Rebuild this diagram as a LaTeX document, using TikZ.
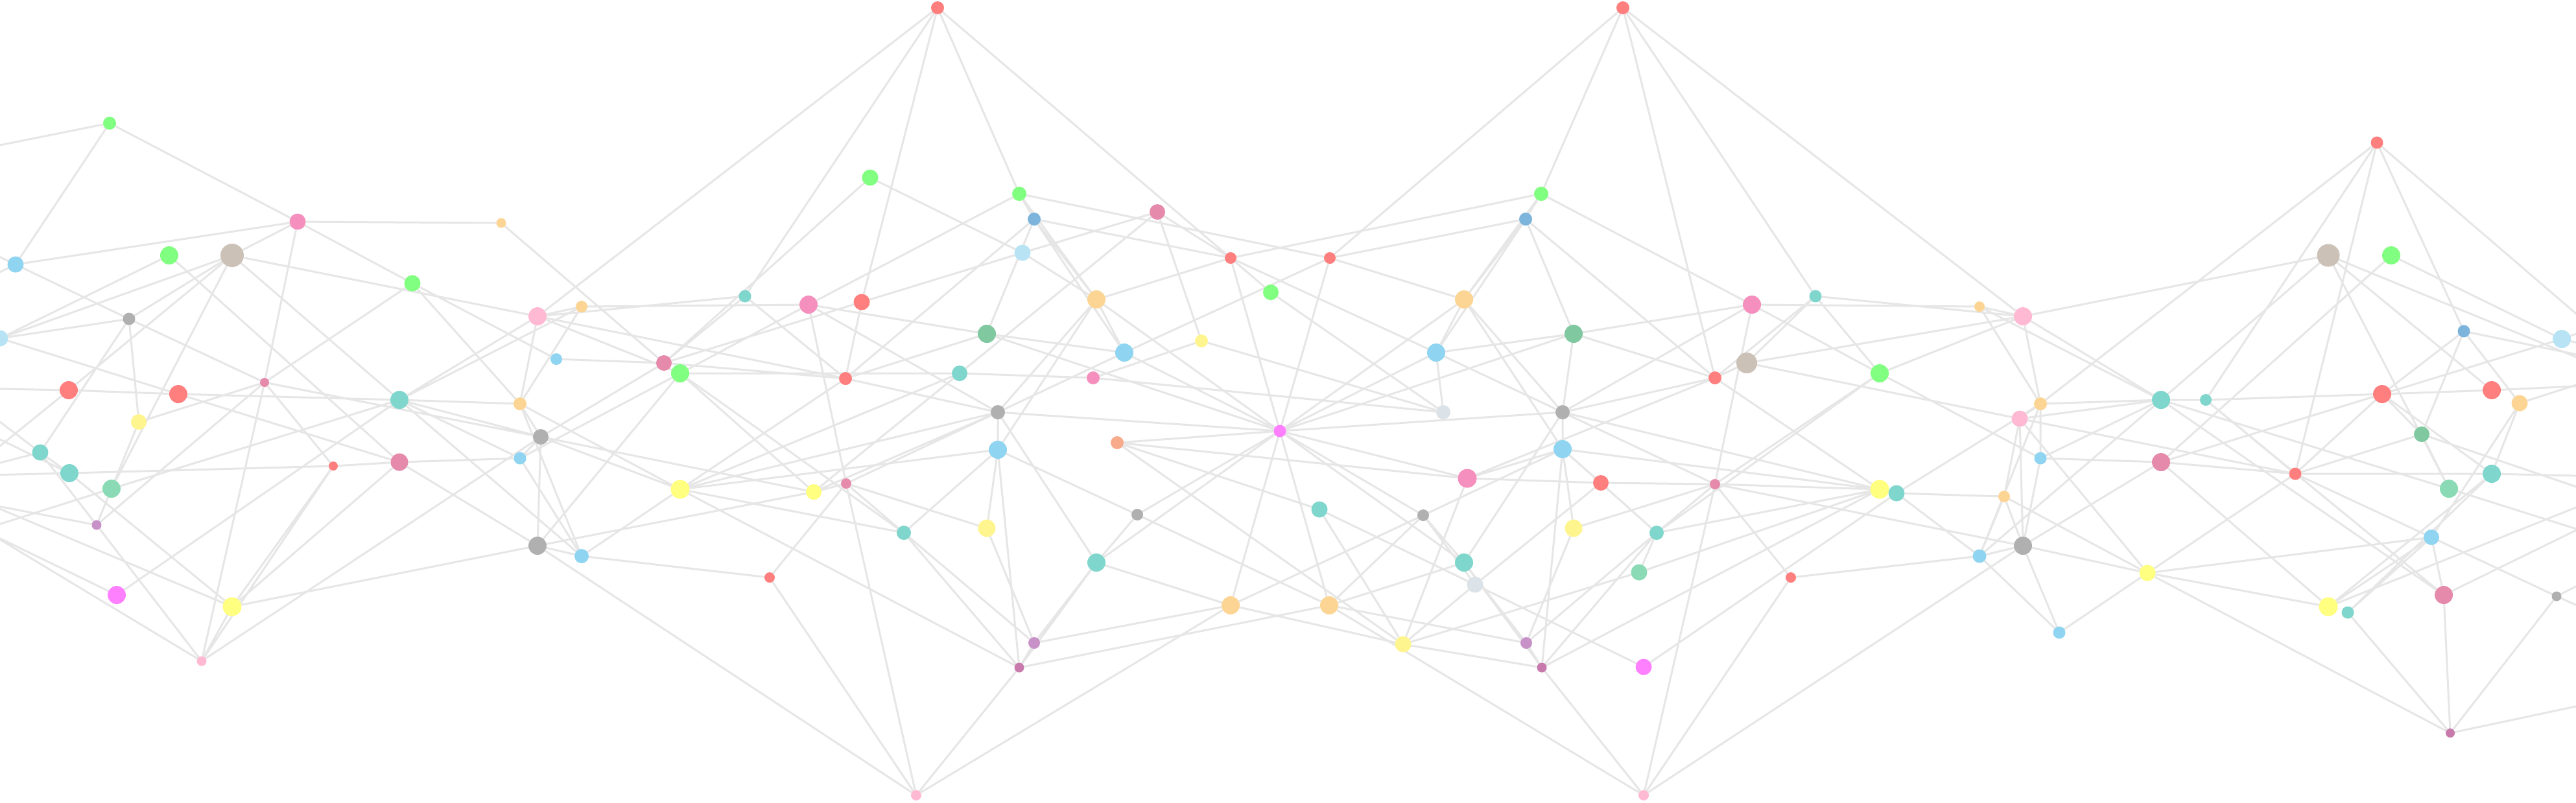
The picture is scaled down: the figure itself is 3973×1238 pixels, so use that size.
\documentclass[tikz,border=0pt]{standalone}
\usetikzlibrary{backgrounds}
\definecolor{cLine}{HTML}{E6E6E6}
\definecolor{cRed}{HTML}{FF7F7F}
\definecolor{cGreen}{HTML}{80FF80}
\definecolor{cPink}{HTML}{F590BE}
\definecolor{cPinkL}{HTML}{FFB9D3}
\definecolor{cPinkD}{HTML}{E68AAC}
\definecolor{cOrange}{HTML}{FCD594}
\definecolor{cTan}{HTML}{CCC1B7}
\definecolor{cBlue}{HTML}{8FD4F0}
\definecolor{cLBlue}{HTML}{B8E3F4}
\definecolor{cDBlue}{HTML}{7DB4DC}
\definecolor{cGray}{HTML}{B0B0B0}
\definecolor{cTeal}{HTML}{7FD6CC}
\definecolor{cMint}{HTML}{8ADBB5}
\definecolor{cDGreen}{HTML}{80C8A0}
\definecolor{cYellow}{HTML}{FFFF80}
\definecolor{cYellowP}{HTML}{FFF58F}
\definecolor{cMag}{HTML}{FF80FF}
\definecolor{cPurple}{HTML}{C891C8}
\definecolor{cPurpleD}{HTML}{C97AAC}
\definecolor{cSalmon}{HTML}{F7AB8A}
\definecolor{cLGray}{HTML}{DCE3E8}
\tikzset{dot/.style={circle,inner sep=0pt,outer sep=0pt,draw=none},
  edge/.style={draw=cLine,line width=0.3pt}}
\newcommand\dn[5]{\node[dot,fill=#4,minimum size=#5pt] (#1) at (#2,#3) {};}
\begin{document}
\begin{tikzpicture}[x=0.1pt,y=-0.1pt]
\useasboundingbox (0,0) rectangle (3973,1238);
% ---- region A
\dn{A1}{169}{190}{cGreen}{2.0}
\dn{A2}{459}{342}{cPink}{2.5}
\dn{A3}{773}{344}{cOrange}{1.5}
\dn{A4}{24}{408}{cBlue}{2.5}
\dn{A5}{261}{394}{cGreen}{2.8}
\dn{A6}{358}{394}{cTan}{3.6}
\dn{A7}{636}{437}{cGreen}{2.5}
\dn{A8}{199}{492}{cGray}{1.9}
\dn{A9}{0}{522}{cLBlue}{2.5}
\dn{A10}{829}{488}{cPinkL}{2.8}
\dn{A11}{897}{473}{cOrange}{1.8}
\dn{A12}{858}{554}{cBlue}{1.8}
\dn{A13}{408}{590}{cPinkD}{1.4}
\dn{A14}{106}{602}{cRed}{2.8}
\dn{A15}{275}{608}{cRed}{2.8}
\dn{A16}{616}{617}{cTeal}{2.8}
\dn{A17}{802}{623}{cOrange}{2.0}
\dn{A18}{214}{651}{cYellowP}{2.4}
\dn{A19}{834}{674}{cGray}{2.4}
\dn{A20}{62}{698}{cTeal}{2.5}
\dn{A21}{107}{730}{cTeal}{2.8}
\dn{A22}{514}{719}{cRed}{1.4}
\dn{A23}{616}{713}{cPinkD}{2.7}
\dn{A24}{802}{707}{cBlue}{1.9}
\dn{A25}{172}{754}{cMint}{2.8}
\dn{A26}{149}{810}{cPurple}{1.5}
\dn{A27}{829}{842}{cGray}{2.8}
\dn{A28}{897}{858}{cBlue}{2.2}
\dn{A29}{180}{918}{cMag}{2.8}
\dn{A30}{358}{936}{cYellow}{2.9}
\dn{A31}{311}{1020}{cPinkL}{1.5}
% ---- region B
\dn{B1}{1446}{12}{cRed}{2.0}
\dn{B2}{1342}{274}{cGreen}{2.5}
\dn{B3}{1572}{299}{cGreen}{2.2}
\dn{B4}{1595}{338}{cDBlue}{2.0}
\dn{B5}{1785}{327}{cPinkD}{2.4}
\dn{B6}{1577}{390}{cLBlue}{2.5}
\dn{B7}{1898}{398}{cRed}{1.8}
\dn{B8}{1960}{451}{cGreen}{2.4}
\dn{B9}{1149}{457}{cTeal}{1.9}
\dn{B10}{1247}{470}{cPink}{2.8}
\dn{B11}{1329}{466}{cRed}{2.5}
\dn{B12}{1691}{462}{cOrange}{2.8}
\dn{B13}{1522}{515}{cDGreen}{2.8}
\dn{B14}{1853}{526}{cYellowP}{2.0}
\dn{B15}{1734}{544}{cBlue}{2.8}
\dn{B16}{1024}{560}{cPinkD}{2.4}
\dn{B17}{1049}{576}{cGreen}{2.8}
\dn{B18}{1304}{584}{cRed}{2.0}
\dn{B19}{1480}{576}{cTeal}{2.4}
\dn{B20}{1686}{583}{cPink}{2.0}
\dn{B21}{1539}{636}{cGray}{2.2}
\dn{B22}{1974}{665}{cMag}{1.9}
\dn{B23}{1723}{683}{cSalmon}{2.0}
\dn{B24}{1539}{694}{cBlue}{2.8}
\dn{B25}{1049}{755}{cYellow}{2.9}
\dn{B26}{1255}{759}{cYellow}{2.4}
\dn{B27}{1305}{746}{cPinkD}{1.6}
\dn{B28}{1754}{794}{cGray}{1.8}
\dn{B29}{1394}{822}{cTeal}{2.2}
\dn{B30}{1522}{815}{cYellowP}{2.7}
\dn{B31}{1691}{868}{cTeal}{2.8}
\dn{B32}{1187}{891}{cRed}{1.6}
\dn{B33}{1898}{934}{cOrange}{2.8}
\dn{B34}{1595}{992}{cPurple}{1.8}
\dn{B35}{1572}{1030}{cPurpleD}{1.5}
\dn{B36}{1413}{1227}{cPinkL}{1.6}
% ---- region C
\dn{C1}{2503}{12}{cRed}{2.0}
\dn{C2}{2377}{299}{cGreen}{2.2}
\dn{C3}{2353}{338}{cDBlue}{2.0}
\dn{C4}{2051}{398}{cRed}{1.8}
\dn{C5}{2258}{462}{cOrange}{2.8}
\dn{C6}{2800}{457}{cTeal}{1.9}
\dn{C7}{2702}{470}{cPink}{2.8}
\dn{C8}{2427}{515}{cDGreen}{2.8}
\dn{C9}{2215}{544}{cBlue}{2.8}
\dn{C10}{2694}{560}{cTan}{3.2}
\dn{C11}{2645}{583}{cRed}{2.0}
\dn{C12}{2899}{576}{cGreen}{2.8}
\dn{C13}{2226}{636}{cLGray}{2.2}
\dn{C14}{2410}{636}{cGray}{2.2}
\dn{C15}{2410}{693}{cBlue}{2.8}
\dn{C16}{2263}{738}{cPink}{2.9}
\dn{C17}{2469}{745}{cRed}{2.4}
\dn{C18}{2645}{747}{cPinkD}{1.6}
\dn{C19}{2899}{755}{cYellow}{2.9}
\dn{C20}{2925}{761}{cTeal}{2.5}
\dn{C21}{2035}{786}{cTeal}{2.5}
\dn{C22}{2195}{795}{cGray}{1.8}
\dn{C23}{2427}{815}{cYellowP}{2.7}
\dn{C24}{2555}{822}{cTeal}{2.2}
\dn{C25}{2258}{868}{cTeal}{2.8}
\dn{C26}{2275}{902}{cLGray}{2.5}
\dn{C27}{2528}{883}{cMint}{2.5}
\dn{C28}{2762}{891}{cRed}{1.6}
\dn{C29}{2050}{934}{cOrange}{2.8}
\dn{C30}{2164}{994}{cYellowP}{2.5}
\dn{C31}{2354}{992}{cPurple}{1.8}
\dn{C32}{2378}{1030}{cPurpleD}{1.5}
\dn{C33}{2535}{1029}{cMag}{2.5}
\dn{C34}{2535}{1227}{cPinkL}{1.6}
% ---- region D
\dn{D1}{3666}{220}{cRed}{1.9}
\dn{D2}{3591}{394}{cTan}{3.5}
\dn{D3}{3688}{394}{cGreen}{2.8}
\dn{D4}{3800}{511}{cDBlue}{1.9}
\dn{D5}{3951}{523}{cLBlue}{2.8}
\dn{D6}{3053}{473}{cOrange}{1.6}
\dn{D7}{3120}{488}{cPinkL}{2.8}
\dn{D8}{3147}{623}{cOrange}{2.0}
\dn{D9}{3333}{617}{cTeal}{2.8}
\dn{D10}{3402}{617}{cTeal}{1.8}
\dn{D11}{3674}{608}{cRed}{2.8}
\dn{D12}{3843}{602}{cRed}{2.8}
\dn{D13}{3886}{622}{cOrange}{2.5}
\dn{D14}{3115}{646}{cPinkL}{2.5}
\dn{D15}{3735}{670}{cDGreen}{2.4}
\dn{D16}{3147}{707}{cBlue}{1.9}
\dn{D17}{3333}{713}{cPinkD}{2.8}
\dn{D18}{3540}{731}{cRed}{1.9}
\dn{D19}{3843}{731}{cTeal}{2.8}
\dn{D20}{3777}{754}{cMint}{2.8}
\dn{D21}{3091}{766}{cOrange}{1.8}
\dn{D22}{3120}{842}{cGray}{2.8}
\dn{D23}{3053}{858}{cBlue}{2.1}
\dn{D24}{3750}{829}{cBlue}{2.4}
\dn{D25}{3312}{884}{cYellow}{2.5}
\dn{D26}{3591}{936}{cYellow}{2.9}
\dn{D27}{3621}{945}{cTeal}{1.9}
\dn{D28}{3769}{918}{cPinkD}{2.8}
\dn{D29}{3943}{920}{cGray}{1.5}
\dn{D30}{3176}{976}{cBlue}{1.9}
\dn{D31}{3779}{1131}{cPurpleD}{1.4}
% ---- off-canvas ends
\coordinate (oA1) at (-150,254);
\coordinate (oA4a) at (-150,325);
\coordinate (oA4b) at (-150,493);
\coordinate (oA14) at (-150,597);
\coordinate (oA14b) at (-150,810);
\coordinate (oA20a) at (-150,753);
\coordinate (oA20b) at (-150,537);
\coordinate (oA21) at (-150,736);
\coordinate (oA21b) at (-150,605);
\coordinate (oA25) at (-150,856);
\coordinate (oA26) at (-150,753);
\coordinate (oA29) at (-150,758);
\coordinate (oA30) at (-150,722);
\coordinate (oA31) at (-150,742);
\coordinate (oD1) at (4100,593);
\coordinate (oD2) at (4100,603);
\coordinate (oD4) at (4100,573);
\coordinate (oD5a) at (4100,470);
\coordinate (oD5b) at (4100,560);
\coordinate (oD12) at (4100,590);
\coordinate (oD13) at (4100,553);
\coordinate (oD15) at (4100,794);
\coordinate (oD19) at (4100,737);
\coordinate (oD20) at (4100,856);
\coordinate (oD26) at (4100,732);
\coordinate (oD28) at (4100,756);
\coordinate (oD29a) at (4100,840);
\coordinate (oD29b) at (4100,990);
\coordinate (oD31) at (4100,1063);
\begin{pgfonlayer}{background}
\fill[white] (0,0) rectangle (3973,1238);
% region A edges
\draw[edge] (A1)--(oA1) (A1)--(A4) (A1)--(A2)
 (A2)--(A3) (A2)--(A4) (A2)--(A6) (A2)--(A7) (A7)--(A12) (A2)--(A13)
 (A3)--(B16)
 (A4)--(oA4a) (A4)--(oA4b) (A4)--(A8) (A8)--(A13)
 (A5)--(A9) (A5)--(A23)
 (A6)--(A10) (A6)--(A8) (A6)--(A14) (A6)--(A16) (A6)--(A25) (A6)--(A9)
 (A7)--(A13) (A7)--(A17)
 (A8)--(A9) (A8)--(A20) (A8)--(A18)
 (A9)--(A15) (A15)--(A23)
 (oA14)--(A14) (A14)--(A15) (A15)--(A16) (A16)--(A17) (A14)--(oA14b)
 (A18)--(A25) (A18)--(A13)
 (A25)--(A26) (A25)--(A16) (A25)--(oA25)
 (A26)--(A31) (A26)--(oA26) (A26)--(A20) (A26)--(A13)
 (A31)--(oA31) (A31)--(A13) (A31)--(A22) (A31)--(A19) (A31)--(A30)
 (A30)--(oA30) (A30)--(A21) (A30)--(A22) (A30)--(A27) (A30)--(A23)
 (A29)--(oA29) (A29)--(A16)
 (A28)--(A27) (A28)--(B32) (A28)--(B25) (A28)--(A17)
 (A27)--(A23) (A27)--(B17) (A27)--(B36) (A27)--(B26) (A27)--(A19)
 (oA21)--(A21) (A21)--(A22) (A22)--(A23) (A23)--(A24) (A21)--(A20) (A21)--(oA21b)
 (A20)--(oA20a) (A20)--(oA20b)
 (A22)--(A13) (A13)--(A19)
 (A24)--(A16) (A24)--(A28) (A24)--(A19) (A24)--(B17)
 (A19)--(A16) (A19)--(A17) (A19)--(B25) (A19)--(B26) (A19)--(B16)
 (A17)--(A10) (A17)--(B25) (A17)--(A11)
 (A16)--(A10) (A16)--(A11) (A16)--(A28)
 (A10)--(A11) (A10)--(B1) (A10)--(B9) (A10)--(B18)
 (A11)--(B10) (A12)--(B16);
% region B edges
\draw[edge] (B1)--(B9) (B1)--(B11) (B11)--(B18) (B1)--(B3) (B1)--(B7)
 (B2)--(B16) (B2)--(B6) (B6)--(B12)
 (B3)--(B10) (B3)--(C4) (B3)--(B4) (B3)--(B12)
 (B4)--(B12) (B4)--(B15) (B12)--(B15) (B4)--(B7) (B4)--(B18) (B4)--(B13)
 (B5)--(B6) (B5)--(B19) (B5)--(B14) (B5)--(B7)
 (B6)--(B11) (B11)--(B16)
 (B7)--(C2) (B7)--(B12) (B7)--(C9) (B7)--(B8) (B7)--(B22)
 (B15)--(C4) (B8)--(C13)
 (B9)--(B16) (B9)--(B18)
 (B10)--(B17) (B10)--(B21) (B10)--(B27) (B10)--(B13) (B13)--(B15)
 (B12)--(B22) (B12)--(B24) (B12)--(B21)
 (B13)--(B18) (B13)--(B22)
 (B14)--(B20) (B14)--(C13)
 (B15)--(B21) (B15)--(B22)
 (B16)--(B18) (B17)--(B19) (B19)--(B20) (B20)--(C13)
 (B17)--(B26) (B17)--(A10) (B17)--(B29)
 (B18)--(B21) (B18)--(B25)
 (B19)--(B25) (B19)--(B26)
 (B21)--(B22) (B21)--(B24) (B21)--(B26) (B21)--(B27) (B21)--(B31) (B21)--(B25)
 (B22)--(B23) (B22)--(B28) (B22)--(B31) (B22)--(B33) (B22)--(C16)
 (B23)--(C16) (B23)--(C21) (B23)--(C30)
 (B24)--(B25) (B24)--(B28) (B24)--(B29) (B24)--(B30) (B24)--(B35)
 (B25)--(B29) (B25)--(B35)
 (B26)--(B27)
 (B27)--(B29) (B27)--(B30) (B27)--(B32) (B27)--(B36)
 (B28)--(B31) (B28)--(C29)
 (B29)--(B34) (B29)--(B35)
 (B30)--(B34)
 (B31)--(B33) (B31)--(B34) (B31)--(B35)
 (B32)--(B36)
 (B33)--(B34) (B33)--(B36) (B33)--(C22) (B33)--(C30)
 (B34)--(B35) (B35)--(B36) (B35)--(C29);
% region C edges
\draw[edge] (C1)--(C6) (C1)--(C11) (C1)--(C2) (C1)--(C4) (C1)--(D7)
 (C2)--(C3) (C2)--(C7) (C2)--(C5)
 (C3)--(C5) (C3)--(C9) (C5)--(C9) (C3)--(C4) (C3)--(C11) (C3)--(C8)
 (C4)--(C5) (C4)--(B22)
 (C5)--(B22) (C5)--(C15) (C5)--(C14)
 (C6)--(C11) (C6)--(C10) (C6)--(C12) (C6)--(D7)
 (C7)--(D6) (C7)--(C14) (C7)--(C18) (C7)--(C12) (C7)--(C8)
 (C8)--(C9) (C8)--(C11) (C8)--(C14) (C8)--(B22)
 (C9)--(C14) (C9)--(B22) (C9)--(C13)
 (C10)--(C11) (C10)--(D7) (C10)--(D14)
 (C11)--(C14) (C11)--(C19) (C11)--(C16)
 (C12)--(C18) (C12)--(D16) (C12)--(D7) (C12)--(C24)
 (C14)--(B22) (C14)--(C15) (C14)--(C25) (C14)--(C19) (C14)--(C18)
 (C15)--(C16) (C15)--(C17) (C15)--(C19) (C15)--(C22) (C15)--(C23) (C15)--(C24) (C15)--(C32)
 (C16)--(C17) (C17)--(C18) (C18)--(C19) (C19)--(C20) (C20)--(D21)
 (C16)--(C30)
 (C17)--(C24) (C17)--(C26)
 (C18)--(C23) (C18)--(C24) (C18)--(C28) (C18)--(C34)
 (C19)--(C24) (C19)--(C27) (C19)--(C32)
 (C20)--(C33) (C20)--(D8) (C20)--(D23)
 (C21)--(C26) (C26)--(C33) (C21)--(C30)
 (C22)--(C25) (C22)--(C26) (C22)--(C29) (C22)--(B22)
 (C23)--(C31)
 (C24)--(C31) (C24)--(C32) (C24)--(C27)
 (C25)--(C29) (C25)--(C31) (C25)--(C32) (C25)--(B22)
 (C26)--(C30)
 (C27)--(C30)
 (C28)--(C34) (C28)--(D23)
 (C29)--(C31) (C29)--(C34) (C29)--(B22)
 (C30)--(C32)
 (C31)--(C32) (C32)--(C34)
 (C34)--(D22);
% region D edges
\draw[edge] (D1)--(D8) (D1)--(D10) (D1)--(D18) (D1)--(D4) (D1)--(oD1)
 (D2)--(D7) (D2)--(D9) (D2)--(D12) (D2)--(D20) (D2)--(oD2)
 (D3)--(D17) (D3)--(D5)
 (D4)--(D11) (D4)--(D15) (D4)--(D13) (D4)--(oD4)
 (D5)--(D11) (D5)--(oD5a) (D5)--(oD5b)
 (D6)--(D7) (D6)--(D8) (D6)--(D9)
 (D7)--(D9) (D7)--(D8)
 (D8)--(D9) (D9)--(D10) (D10)--(D11) (D11)--(D12) (D12)--(oD12)
 (D8)--(D14) (D8)--(D16) (D8)--(D23)
 (D9)--(D14) (D9)--(D16) (D9)--(D20) (D9)--(D23) (D9)--(D28)
 (D10)--(D28) (D10)--(D18)
 (D11)--(D15) (D11)--(D17) (D11)--(D18) (D11)--(D19)
 (D13)--(oD13) (D13)--(D19)
 (D14)--(D21) (D14)--(D22) (D14)--(D18) (D14)--(D25)
 (D15)--(D18) (D15)--(D20) (D15)--(oD15)
 (D16)--(D17) (D17)--(D18) (D18)--(D19) (D19)--(oD19) (D16)--(D22)
 (D17)--(D22) (D17)--(D26)
 (D18)--(D25) (D18)--(D24)
 (D19)--(D26) (D19)--(D27)
 (D20)--(oD20)
 (D21)--(D25) (D21)--(D22) (D21)--(D23)
 (D22)--(D23) (D22)--(D25) (D22)--(D30) (D22)--(C18)
 (D23)--(D30)
 (D24)--(D25) (D24)--(D27) (D24)--(D28) (D24)--(D13) (D24)--(D29) (D24)--(D26)
 (D25)--(D26) (D25)--(D30) (D25)--(D31)
 (D26)--(oD26)
 (D27)--(D31)
 (D28)--(D31) (D28)--(oD28)
 (D29)--(D31) (D29)--(oD29a) (D29)--(oD29b)
 (D31)--(oD31);
\end{pgfonlayer}
\end{tikzpicture}
\end{document}
